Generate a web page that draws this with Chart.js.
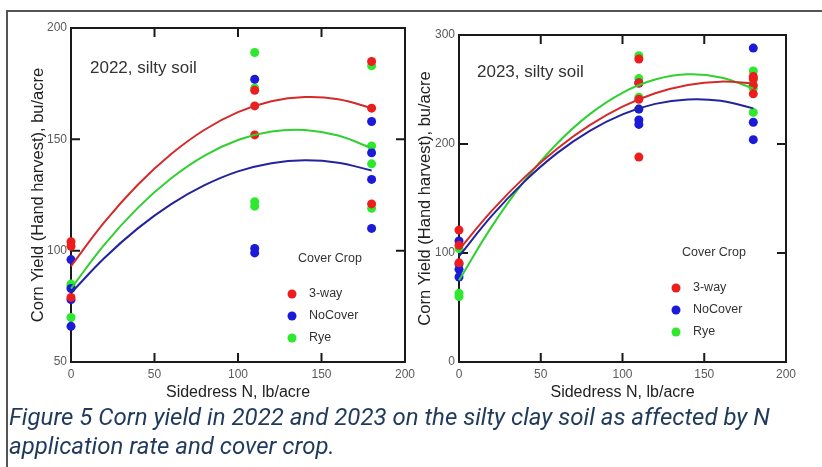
<!DOCTYPE html>
<html>
<head>
<meta charset="utf-8">
<script src="https://cdn.jsdelivr.net/npm/chart.js@4.4.1/dist/chart.umd.min.js"></script>
<style>
  body { margin: 0; background: #fff; }
  #wrap { position: relative; width: 822px; height: 467px; overflow: hidden; background: #fff; }
  #frame { position: absolute; left: 6px; top: 10px; width: 840px; height: 480px; border-top: 2px solid #555; border-left: 2px solid #555; }
  #c2022 { position: absolute; left: 0; top: 0; }
  #c2023 { position: absolute; left: 411px; top: 0; }
  #caption { position: absolute; left: 9px; top: 403px; font: italic 24px Roboto, sans-serif; color: #1f3a5c; line-height: 29px; white-space: nowrap; }
</style>
</head>
<body>
<div id="wrap">
  <div id="frame"></div>
  <canvas id="c2022" width="425" height="405"></canvas>
  <canvas id="c2023" width="411" height="405"></canvas>
  <div id="caption">Figure 5 Corn yield in 2022 and 2023 on the silty clay soil as affected by N<br>application rate and cover crop.</div>
</div>
<script>
// sidedress N rates (lb/acre) where plots were harvested
const rates = [0, 110, 180];

// 2022 yields (bu/acre), one list per rate
const y22ThreeWay = [[104, 102, 79], [172, 165, 152], [185, 164, 121]];
const y22NoCover  = [[96, 83, 78, 66], [177, 101, 99], [158, 144, 132, 110]];
const y22Rye      = [[85, 84, 70], [189, 173, 122, 120], [183, 147, 139, 119]];

// 2023 yields
const y23ThreeWay = [[121, 107, 91], [278, 256, 241, 188], [262, 260, 254, 246]];
const y23NoCover  = [[111, 90, 85, 78], [256, 232, 222, 218], [288, 220, 204]];
const y23Rye      = [[104, 63, 60], [281, 260, 243, 232], [267, 259, 251, 229]];

// fitted curves
const fitRates = [0, 20, 40, 60, 80, 100, 120, 140, 160, 180];
const fit22ThreeWay = [93, 112.8, 129.6, 143.4, 154.3, 162.2, 167.1, 169.0, 168.0, 164.0];
const fit22NoCover  = [81, 96.7, 110.0, 120.9, 129.4, 135.6, 139.3, 140.6, 139.5, 136.0];
const fit22Rye      = [83, 102.7, 119.2, 132.5, 142.7, 149.7, 153.5, 154.2, 151.7, 146.0];
const fit23ThreeWay = [103, 138.6, 169.4, 195.7, 217.3, 234.3, 246.5, 254.2, 257.2, 255.6];
const fit23NoCover  = [97, 134.0, 165.5, 191.6, 212.1, 227.2, 236.8, 240.9, 239.6, 232.7];
const fit23Rye      = [75, 124.2, 166.1, 200.5, 227.4, 247.0, 259.1, 263.9, 261.1, 251.0];

const coverCrops = ['3-way', 'NoCover', 'Rye'];
const dotColors = ['#ee1c1c', '#1a1ad8', '#2ee82e'];
const lineColors = ['#d42a2a', '#23239e', '#2fd02f'];

const FONT = "'Liberation Sans', Arial, sans-serif";

function toPoints(lists) {
  const pts = [];
  lists.forEach((vals, i) => vals.forEach(v => pts.push({x: rates[i], y: v})));
  return pts;
}

function toCurve(vals) {
  return vals.map((v, i) => ({x: fitRates[i], y: v}));
}

function makeDatasets(pointLists, fitLists) {
  const sets = [];
  fitLists.forEach((f, i) => sets.push({
    type: 'line', label: coverCrops[i] + ' fit', data: toCurve(f),
    borderColor: lineColors[i], borderWidth: 2, pointRadius: 0, tension: 0.4, fill: false, clip: false
  }));
  pointLists.forEach((p, i) => sets.push({
    type: 'scatter', label: coverCrops[i], data: toPoints(p), isDot: true,
    backgroundColor: dotColors[i], borderWidth: 0, pointRadius: 4.5, clip: false
  }));
  return sets;
}

// box around the plot with inward tick marks on every side
const frameTicks = {
  id: 'frameTicks',
  beforeDatasetsDraw(chart) {
    const {ctx, chartArea: a, scales: {x, y}} = chart;
    ctx.save();
    ctx.strokeStyle = '#1a1a1a';
    ctx.lineWidth = 2;
    ctx.strokeRect(a.left, a.top, a.right - a.left, a.bottom - a.top);
    ctx.beginPath();
    x.ticks.forEach(t => {
      const px = x.getPixelForValue(t.value);
      if (px < a.left + 2 || px > a.right - 2) return;
      ctx.moveTo(px, a.bottom); ctx.lineTo(px, a.bottom - 9);
      ctx.moveTo(px, a.top); ctx.lineTo(px, a.top + 9);
    });
    y.ticks.forEach(t => {
      const py = y.getPixelForValue(t.value);
      if (py < a.top + 2 || py > a.bottom - 2) return;
      ctx.moveTo(a.left, py); ctx.lineTo(a.left + 9, py);
      ctx.moveTo(a.right, py); ctx.lineTo(a.right - 9, py);
    });
    ctx.stroke();
    ctx.restore();
  }
};

// panel label and the "Cover Crop" key
const notes = {
  id: 'notes',
  afterDatasetsDraw(chart, args, opts) {
    const {ctx, chartArea: a} = chart;
    ctx.save();
    ctx.fillStyle = '#333';
    ctx.textBaseline = 'middle';
    ctx.font = '17px ' + FONT;
    ctx.fillText(opts.title, a.left + opts.titleAt[0], a.top + opts.titleAt[1]);
    ctx.font = '12.5px ' + FONT;
    const lx = a.left + opts.keyAt[0], ly = a.top + opts.keyAt[1];
    ctx.fillText('Cover Crop', lx + 6, ly);
    chart.data.datasets.filter(d => d.isDot).forEach((d, i) => {
      const ry = ly + opts.firstRow + i * opts.rowGap;
      ctx.fillStyle = d.backgroundColor;
      ctx.beginPath();
      ctx.arc(lx, ry, 4.5, 0, Math.PI * 2);
      ctx.fill();
      ctx.fillStyle = '#333';
      ctx.fillText(d.label, lx + 17, ry);
    });
    ctx.restore();
  }
};

function makeChart(id, pointLists, fitLists, yMin, yMax, yStep, pad, yAxisW, yTitlePad, title, titleAt, keyAt, rowGap) {
  return new Chart(document.getElementById(id), {
    data: {datasets: makeDatasets(pointLists, fitLists)},
    plugins: [frameTicks, notes],
    options: {
      responsive: false,
      animation: false,
      layout: {padding: pad},
      plugins: {
        legend: {display: false},
        tooltip: {enabled: false},
        notes: {title: title, titleAt: titleAt, keyAt: keyAt, firstRow: 35, rowGap: rowGap}
      },
      scales: {
        x: {
          type: 'linear', min: 0, max: 200,
          ticks: {stepSize: 50, color: '#5a5a5a', font: {family: FONT, size: 12}, padding: 5},
          grid: {display: false, drawTicks: false},
          border: {display: false},
          title: {display: true, text: 'Sidedress N, lb/acre', color: '#222', font: {family: FONT, size: 16}, padding: {top: 0, bottom: 3}},
          afterFit: s => { s.height = 43; s.paddingLeft = 0; s.paddingRight = 0; }
        },
        y: {
          type: 'linear', min: yMin, max: yMax,
          ticks: {stepSize: yStep, color: '#5a5a5a', font: {family: FONT, size: 12}, padding: 4},
          grid: {display: false, drawTicks: false},
          border: {display: false},
          title: {display: true, text: 'Corn Yield (Hand harvest), bu/acre', color: '#222', font: {family: FONT, size: 16.5}, padding: {top: yTitlePad, bottom: 0}},
          afterFit: s => { s.width = yAxisW; s.paddingTop = 0; s.paddingBottom = 0; }
        }
      }
    }
  });
}

makeChart('c2022', [y22ThreeWay, y22NoCover, y22Rye], [fit22ThreeWay, fit22NoCover, fit22Rye],
  50, 200, 50, {top: 28, right: 20, left: 0, bottom: 0}, 71, 29, '2022, silty soil', [19, 40], [221, 231], 22);

makeChart('c2023', [y23ThreeWay, y23NoCover, y23Rye], [fit23ThreeWay, fit23NoCover, fit23Rye],
  0, 300, 100, {top: 35, right: 36, left: 0, bottom: 0}, 48, 5, '2023, silty soil', [18, 37], [217, 218], 22);
</script>
</body>
</html>
